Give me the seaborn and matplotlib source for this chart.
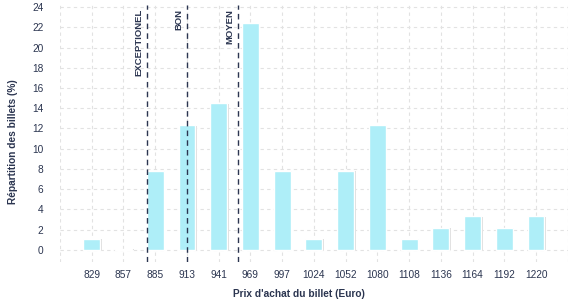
import numpy as np
import pandas as pd
import seaborn as sns
import matplotlib
matplotlib.use("Agg")
import matplotlib.pyplot as plt
import matplotlib.patheffects as pe

prices = ["829", "857", "885", "913", "941", "969", "997", "1024", "1052", "1080",
          "1108", "1136", "1164", "1192", "1220"]
shares = [1.1, 0.1, 7.8, 12.3, 14.5, 22.4, 7.8, 1.1, 7.8, 12.3, 1.1, 2.2, 3.3, 2.2, 3.3]
thresholds = [877.5, 913, 958]
threshold_labels = ["EXCEPTIONEL", "BON", "MOYEN"]
yticks = list(range(0, 25, 2))

sns.set_theme(style="white")
plt.rcParams["font.family"] = ["Liberation Sans", "DejaVu Sans"]

navy = "#2b3550"
df = pd.DataFrame({"prix": prices, "part": shares})

fig = plt.figure(figsize=(5.77, 3.0), dpi=100)
ax = fig.add_axes([0.104, 0.127, 0.88, 0.856])

sns.barplot(data=df, x="prix", y="part", color="#aeeef8", saturation=1,
            width=0.53, ax=ax, zorder=3)
for p in ax.patches:
    p.set_path_effects([pe.SimplePatchShadow(offset=(1.2, -0.3), shadow_rgbFace="#dcdcdc", alpha=1),
                        pe.Normal()])

ax.set_xlim(-1, 15)
ax.set_ylim(-1.2, 24.2)
ax.set_yticks(yticks)
ax.set_xticks(range(-1, 16), [""] + prices + [""])
ax.grid(True, color="#e2e2e2", linestyle=(0, (3, 3)), linewidth=0.8, zorder=0)
for s in ax.spines.values():
    s.set_visible(False)
ax.tick_params(axis="both", length=0, labelsize=7.3, colors=navy)
ax.tick_params(axis="x", pad=6)
ax.tick_params(axis="y", pad=12)

num = [float(p) for p in prices]
for t, lab in zip(thresholds, threshold_labels):
    xpos = np.interp(t, num, range(len(num)))
    ax.axvline(xpos, color=navy, linestyle=(0, (4, 3)), linewidth=1.0, zorder=4)
    ax.text(xpos - 0.12, 23.8, lab, rotation=90, ha="right", va="top",
            fontsize=6.8, color=navy, fontweight="bold", zorder=5)

ax.set_xlabel("Prix d'achat du billet (Euro)", fontsize=7.3, fontweight="bold", color=navy)
ax.set_ylabel("Répartition des billets (%)", fontsize=7.3, fontweight="bold", color=navy)
ax.xaxis.set_label_coords(0.47, -0.105)
ax.yaxis.set_label_coords(-0.083, 0.47)

fig.savefig("out.png", dpi=100)
